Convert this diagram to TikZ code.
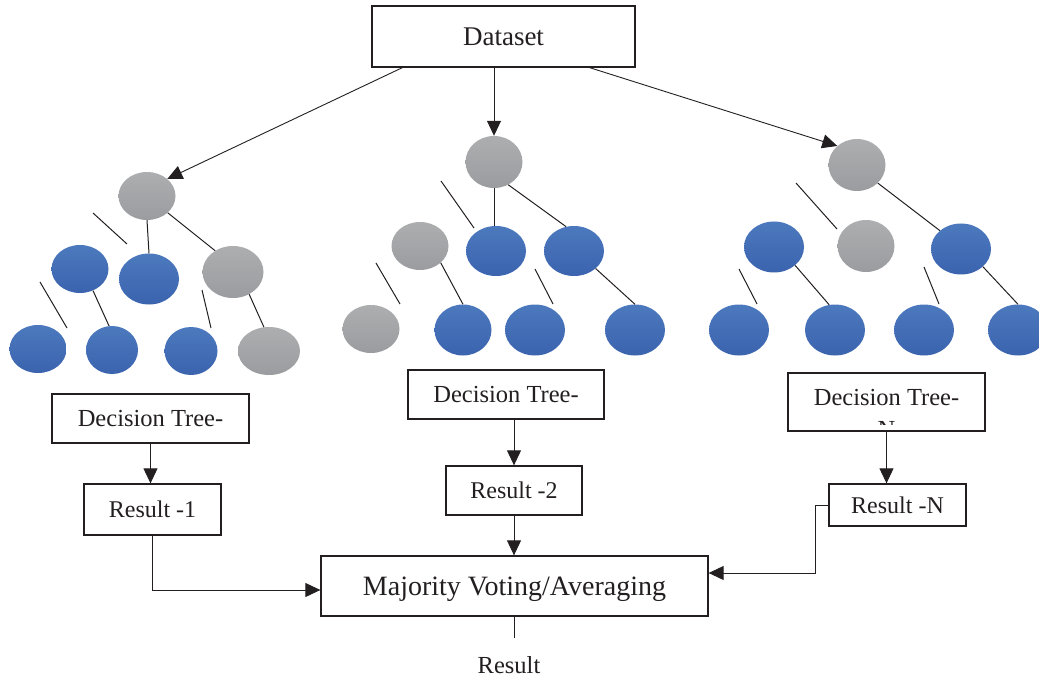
\documentclass[tikz,border=0pt]{standalone}
\usepackage{fontspec}
\setmainfont{Liberation Serif}
\usetikzlibrary{shapes.geometric,arrows.meta}
\definecolor{grayTop}{RGB}{172,174,176}
\definecolor{grayBot}{RGB}{154,156,159}
\definecolor{blueTop}{RGB}{76,121,190}
\definecolor{blueBot}{RGB}{59,99,174}
\definecolor{ink}{RGB}{35,31,32}
\tikzset{
  nodeg/.style={ellipse, inner sep=0pt, top color=grayTop, bottom color=grayBot, draw=none},
  nodeb/.style={ellipse, inner sep=0pt, top color=blueTop, bottom color=blueBot, draw=none},
  box/.style={draw=ink, line width=1.3pt, inner sep=0pt, text=ink},
  branch/.style={draw=ink, line width=1pt},
  link/.style={draw=ink, line width=0.9pt},
  flow/.style={link, -{Triangle[length=15pt,width=14pt]}},
  big/.style={font=\fontsize{27}{32}\selectfont},
  mid/.style={font=\fontsize{24.5}{29}\selectfont},
  huge/.style={font=\fontsize{28}{33}\selectfont},
}
\begin{document}
\begin{tikzpicture}[x=1pt,y=-1pt]
\useasboundingbox (0,0) rectangle (1039,679);

% source data
\node[box, big, minimum width=263pt, minimum height=61pt] (data) at (503.5,36.5) {Dataset};

% ---------- tree 1 ----------
\node[nodeg, minimum width=57pt, minimum height=48pt] (t1r) at (147,196) {};
\node[nodeb, minimum width=57pt, minimum height=48pt] (t1a) at (80,269) {};
\node[nodeb, minimum width=60pt, minimum height=51pt] (t1b) at (149,279) {};
\node[nodeg, minimum width=61pt, minimum height=52pt] (t1c) at (233,272) {};
\node[nodeb, minimum width=57pt, minimum height=48pt] (t1d) at (38,349) {};
\node[nodeb, minimum width=52pt, minimum height=48pt] (t1e) at (112,350) {};
\node[nodeb, minimum width=53pt, minimum height=48pt] (t1f) at (191,351) {};
\node[nodeg, minimum width=62pt, minimum height=48pt] (t1g) at (269,351) {};
\draw[branch] (t1r.south) -- (t1b.north);
\draw[branch] (t1r.-39) -- (t1c.130);
\draw[branch] (t1a.-59) -- (t1e.97);
\draw[branch] (t1c.-54) -- (t1g.102);
\draw[branch] (93,213) -- (127,244);
\draw[branch] (40,282) -- (67,328);
\draw[branch] (202,290) -- (211,328);

% ---------- tree 2 ----------
\node[nodeg, minimum width=57pt, minimum height=52pt] (t2r) at (494,162) {};
\node[nodeg, minimum width=57pt, minimum height=48pt] (t2a) at (420,246) {};
\node[nodeb, minimum width=60pt, minimum height=50pt] (t2b) at (496,251) {};
\node[nodeb, minimum width=60pt, minimum height=50pt] (t2c) at (574,251) {};
\node[nodeg, minimum width=57pt, minimum height=48pt] (t2d) at (371,329) {};
\node[nodeb, minimum width=57pt, minimum height=51pt] (t2e) at (463,330) {};
\node[nodeb, minimum width=60pt, minimum height=51pt] (t2f) at (535,330) {};
\node[nodeb, minimum width=60pt, minimum height=51pt] (t2g) at (635,330) {};
\draw[branch] (t2r.south) -- (t2r.south |- t2b.north);
\draw[branch] (t2r.-58) -- (t2c.108);
\draw[branch] (t2a.-39) -- (t2e.north);
\draw[branch] (t2c.-39) -- (t2g.north);
\draw[branch] (441,181) -- (474,228);
\draw[branch] (376,263) -- (400,304);
\draw[branch] (535,269) -- (553,304);

% ---------- tree N ----------
\node[nodeg, minimum width=57pt, minimum height=52pt] (t3r) at (857,165) {};
\node[nodeb, minimum width=60pt, minimum height=51pt] (t3a) at (774,247) {};
\node[nodeg, minimum width=57pt, minimum height=52pt] (t3b) at (866,246) {};
\node[nodeb, minimum width=60pt, minimum height=51pt] (t3c) at (961,249) {};
\node[nodeb, minimum width=60pt, minimum height=51pt] (t3d) at (739,330) {};
\node[nodeb, minimum width=60pt, minimum height=51pt] (t3e) at (835,330) {};
\node[nodeb, minimum width=60pt, minimum height=51pt] (t3f) at (924,330) {};
\node[nodeb, minimum width=60pt, minimum height=51pt] (t3g) at (1018,330) {};
\draw[branch] (t3r.-41) -- (t3c.139);
\draw[branch] (t3a.-41) -- (t3e.103);
\draw[branch] (t3c.-39) -- (t3g.north);
\draw[branch] (796,183) -- (837,229);
\draw[branch] (739,269) -- (757,304);
\draw[branch] (924,267) -- (939,304);

% data feeds each tree
\draw[flow] ([xshift=31pt]data.south west) -- (t1r.40);
\draw[flow] (t2r.north |- data.south) -- (t2r.north);
\draw[flow] ([xshift=-46pt]data.south east) -- (t3r.136);

% tree labels
\node[box, mid, minimum width=197pt, minimum height=49pt] (dt1) at (150.5,418.5) {Decision Tree-};
\node[box, mid, minimum width=196pt, minimum height=49pt] (dt2) at (506,394.5) {Decision Tree-};
\node[box, minimum width=197pt, minimum height=58pt] (dt3) at (886.5,402) {};
\begin{scope}
  \clip (790,375) rectangle (983,424.5);
  \node[font=\fontsize{24.5}{32}\selectfont, text=ink, align=center, anchor=north, inner sep=0pt] at (886.5,389) {Decision Tree-\\N};
\end{scope}

% per-tree results
\node[box, font=\fontsize{24}{29}\selectfont, minimum width=137pt, minimum height=51pt] (r1) at (152.5,509.5) {Result -1};
\node[box, font=\fontsize{24}{29}\selectfont, minimum width=136pt, minimum height=49pt] (r2) at (514,490.5) {Result -2};
\node[box, font=\fontsize{24}{29}\selectfont, minimum width=137pt, minimum height=42pt] (rN) at (897.5,505) {Result -N};

% aggregation
\node[box, huge, text height=19pt, text depth=0pt, minimum width=387pt, minimum height=60pt] (maj) at (514.5,586) {Majority Voting/Averaging};
\node[mid, text=ink, inner sep=0pt] (res) at (509,665) {Result};

\draw[flow] (dt1.south) -- (dt1.south |- r1.north);
\draw[flow] (dt2.south -| r2.north) -- (r2.north);
\draw[flow] (dt3.south) -- (dt3.south |- rN.north);
\draw[flow] (r1.south) |- ([yshift=-4pt]maj.west);
\draw[flow] (r2.south) -- (r2.south |- maj.north);
\draw[flow] (rN.west) -- ++(-13,0) |- ([yshift=13pt]maj.east);
\draw[link, shorten >=18pt] (maj.south) -- (maj.south |- res.north);
\end{tikzpicture}
\end{document}
